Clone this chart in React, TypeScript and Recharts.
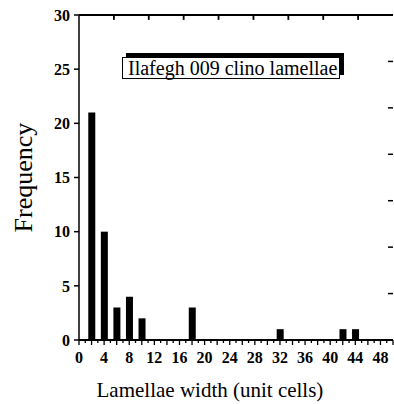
import React from 'react';
import { BarChart, Bar, XAxis, YAxis, Label, ReferenceLine } from 'recharts';

const widths = [2, 4, 6, 8, 10, 18, 32, 42, 44];
const frequencies = [21, 10, 3, 4, 2, 3, 1, 1, 1];
const xTicks = Array.from({ length: 51 }, (_, i) => i);
const xLabelTicks = [0, 4, 8, 12, 16, 20, 24, 28, 32, 36, 40, 44, 48];
const yTicks = [0, 5, 10, 15, 20, 25, 30];
const topTicks = [1, 2, 3, 4, 5, 6, 7, 8];
const rightTicks = [1, 2, 3, 4, 5, 6];
const boxTitle = 'Ilafegh 009 clino lamellae';
const xTitle = 'Lamellae width (unit cells)';
const yTitle = 'Frequency';

const data = widths.map((w, i) => ({ width: w, freq: frequencies[i] }));

const FONT = '"Liberation Serif", "Times New Roman", Times, serif';

const BottomTick = (props: any) => {
  const { x, y, payload } = props;
  const v = payload.value;
  const len = v % 2 === 0 ? 5 : 3;
  return (
    <g>
      <line x1={x} x2={x} y1={y} y2={y + len} stroke="#000" strokeWidth={1.3} />
      {xLabelTicks.includes(v) && (
        <text x={x} y={y + 23} textAnchor="middle" fontFamily={FONT} fontWeight="bold" fontSize={16} fill="#000">
          {v}
        </text>
      )}
    </g>
  );
};

const RightTick = (props: any) => {
  const { x, y } = props;
  return <line x1={x} x2={x - 5} y1={y} y2={y} stroke="#000" strokeWidth={1.5} />;
};

export default function App() {
  return (
    <div style={{ position: 'absolute', left: 0, top: 0, width: 394, height: 404, background: '#fff' }}>
      <BarChart width={394} height={404} data={data} margin={{ top: 14, right: 0, bottom: 0, left: 19 }}>
        <XAxis
          xAxisId="b"
          dataKey="width"
          type="number"
          domain={[0, 50]}
          ticks={xTicks}
          interval={0}
          orientation="bottom"
          height={64}
          tickSize={0}
          tickMargin={0}
          tickLine={false}
          tick={<BottomTick />}
          axisLine={{ stroke: '#000', strokeWidth: 2 }}
        >
          <Label
            content={(p: any) => {
              const vb = p.viewBox;
              return (
                <text x={vb.x + vb.width * 0.417} y={vb.y + 57} textAnchor="middle" fontFamily={FONT} fontSize={21} fill="#000">
                  {xTitle}
                </text>
              );
            }}
          />
        </XAxis>
        <XAxis
          xAxisId="t"
          dataKey="width"
          type="number"
          domain={[0, 9]}
          allowDataOverflow
          ticks={topTicks}
          interval={0}
          orientation="top"
          height={1}
          tick={false}
          tickLine={false}
          axisLine={{ stroke: '#000', strokeWidth: 2 }}
        />
        <YAxis
          yAxisId="l"
          type="number"
          domain={[0, 30]}
          ticks={yTicks}
          interval={0}
          width={60}
          tickSize={5}
          tickMargin={4}
          tickLine={{ stroke: '#000', strokeWidth: 1.5 }}
          axisLine={{ stroke: '#000', strokeWidth: 1.5 }}
          tick={{ fill: '#000', fontFamily: FONT, fontWeight: 'bold', fontSize: 16 }}
        >
          <Label
            content={(p: any) => {
              const vb = p.viewBox;
              const cx = vb.x + 13;
              const cy = vb.y + vb.height / 2;
              return (
                <text x={cx} y={cy} transform={`rotate(-90, ${cx}, ${cy})`} textAnchor="middle" fontFamily={FONT} fontSize={26} fill="#000">
                  {yTitle}
                </text>
              );
            }}
          />
        </YAxis>
        <YAxis
          yAxisId="r"
          orientation="right"
          type="number"
          domain={[0, 7]}
          allowDataOverflow
          ticks={rightTicks}
          interval={0}
          width={1}
          axisLine={false}
          tickSize={0}
          tickMargin={0}
          tickLine={false}
          tick={<RightTick />}
        />
        <Bar xAxisId="b" yAxisId="l" dataKey="freq" fill="#000" barSize={7} isAnimationActive={false} />
        <Bar xAxisId="t" yAxisId="r" dataKey="freq" fill="none" fillOpacity={0} barSize={1} isAnimationActive={false} />
        {topTicks.map((k) => (
          <ReferenceLine
            key={k}
            xAxisId="b"
            yAxisId="l"
            segment={[
              { x: (k * 50) / 9, y: 30 },
              { x: (k * 50) / 9, y: 29.55 },
            ]}
            stroke="#000"
            strokeWidth={1.8}
            ifOverflow="visible"
          />
        ))}
      </BarChart>
      <div
        style={{
          position: 'absolute',
          left: 122,
          top: 57,
          width: 216,
          height: 20,
          border: '1px solid #000',
          boxShadow: '4px -4px 0 #000',
          background: '#fff',
          boxSizing: 'content-box',
          fontFamily: FONT,
          fontSize: 20,
          lineHeight: '20px',
          whiteSpace: 'nowrap',
          color: '#000',
        }}
      >
        <span style={{ marginLeft: 5 }}>{boxTitle}</span>
      </div>
    </div>
  );
}
